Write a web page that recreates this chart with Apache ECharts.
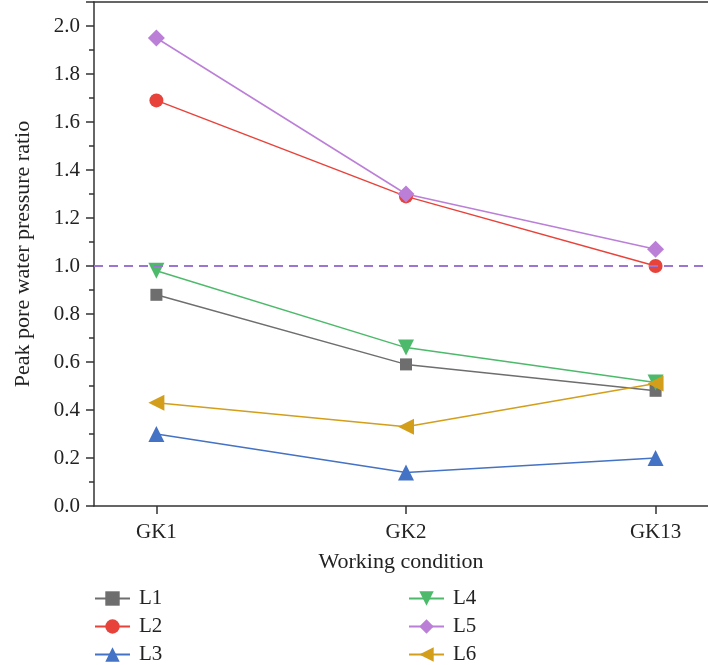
<!DOCTYPE html>
<html>
<head>
<meta charset="utf-8">
<script src="https://cdn.jsdelivr.net/npm/echarts@6/dist/echarts.min.js"></script>
<style>
  html, body { margin: 0; padding: 0; background: #fff; }
  #chart { width: 708px; height: 665px; }
</style>
</head>
<body>
<div id="chart"></div>
<script>
const conditions = ['GK1', 'GK2', 'GK13'];
const L1 = [0.88, 0.59, 0.48];
const L2 = [1.69, 1.29, 1.00];
const L3 = [0.30, 0.14, 0.20];
const L4 = [0.98, 0.66, 0.515];
const L5 = [1.95, 1.30, 1.07];
const L6 = [0.43, 0.33, 0.51];
const refLine = 1.0;

const font = '"Liberation Serif", "DejaVu Serif", serif';

// x is a value axis so the categories can sit a quarter step off the frame
const pts = arr => arr.map((v, i) => [i, v]);

const mk = (name, data, color, symbol, size, rotate) => ({
  name, type: 'line', data: pts(data),
  symbol, symbolSize: size, symbolRotate: rotate || 0,
  lineStyle: { color, width: 1.5 },
  itemStyle: { color },
  z: 3,
});

const series = [
  mk('L1', L1, '#6e6e6e', 'rect', 12),
  mk('L2', L2, '#e8433b', 'circle', 14),
  mk('L3', L3, '#4472c4', 'triangle', 16),
  mk('L4', L4, '#4dba6b', 'triangle', 16, 180),
  mk('L5', L5, '#bb7fd8', 'diamond', 17),
  mk('L6', L6, '#d39e1a', 'triangle', 16, 90),
];
series[0].markLine = {
  silent: true, symbol: 'none', label: { show: false },
  lineStyle: { color: '#9b74d4', type: [9, 6], width: 2 },
  data: [{ yAxis: refLine }],
};

const legendText = { fontFamily: font, fontSize: 21, color: '#222', padding: [0, 0, 0, 4] };
const legendBase = { orient: 'vertical', top: 583, height: 82, itemWidth: 35, itemHeight: 18, itemGap: 7, textStyle: legendText };
const axisLine = { lineStyle: { color: '#333', width: 1.5 } };
const nameStyle = { fontFamily: font, fontSize: 22, color: '#222' };

const chart = echarts.init(document.getElementById('chart'));
chart.setOption({
  animation: false,
  grid: { left: 94, top: 2, right: 0, bottom: 159 },
  legend: [
    Object.assign({ data: ['L1', 'L2', 'L3'], left: 89 }, legendBase),
    Object.assign({ data: ['L4', 'L5', 'L6'], left: 403 }, legendBase),
  ],
  xAxis: [{
    type: 'value', min: -0.25, max: 2.21,
    name: 'Working condition', nameLocation: 'middle', nameGap: 45,
    nameTextStyle: nameStyle,
    splitLine: { show: false },
    axisLine: Object.assign({ onZero: false }, axisLine),
    axisTick: { customValues: [0, 1, 2], length: 8, lineStyle: { color: '#333', width: 1.5 } },
    axisLabel: {
      customValues: [0, 1, 2], margin: 16,
      formatter: v => conditions[v] || '',
      fontFamily: font, fontSize: 21, color: '#222',
    },
  }, {
    // top frame line only
    type: 'value', position: 'top', min: -0.25, max: 2.21,
    axisLine: Object.assign({ onZero: false }, axisLine),
    axisTick: { show: false }, axisLabel: { show: false }, splitLine: { show: false },
  }],
  yAxis: {
    type: 'value', min: 0, max: 2.1, interval: 0.2,
    name: 'Peak pore water pressure ratio', nameLocation: 'middle', nameGap: 60,
    nameTextStyle: nameStyle,
    splitLine: { show: false },
    axisLine: Object.assign({ show: true, onZero: false }, axisLine),
    axisTick: { length: 8, lineStyle: { color: '#333', width: 1.5 } },
    minorTick: { show: true, splitNumber: 2, length: 5, lineStyle: { color: '#333', width: 1.5 } },
    axisLabel: {
      margin: 14, showMaxLabel: false,
      formatter: v => v.toFixed(1),
      fontFamily: font, fontSize: 21, color: '#222',
    },
  },
  series,
});
</script>
</body>
</html>
